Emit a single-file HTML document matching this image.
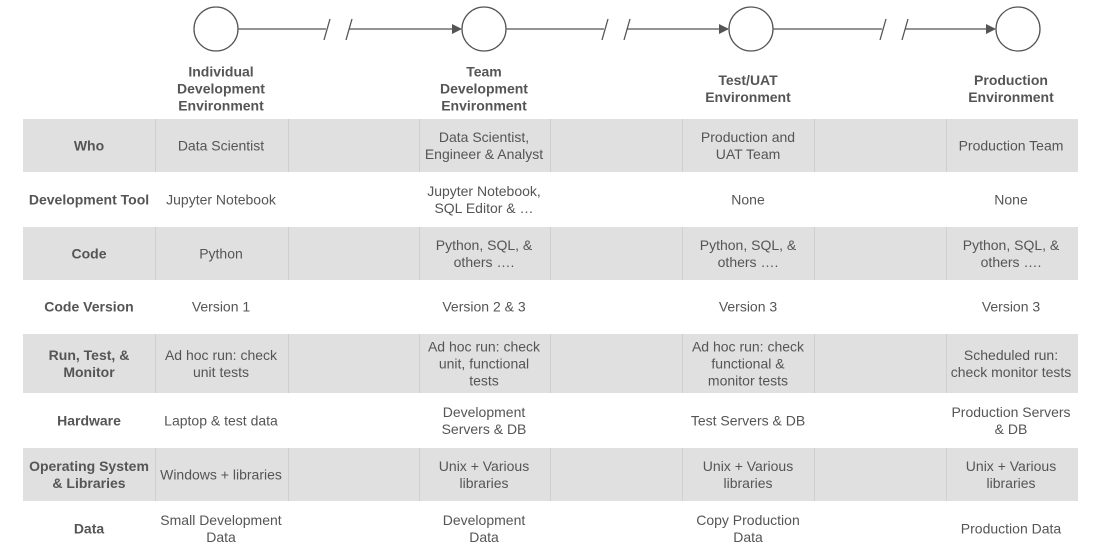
<!DOCTYPE html>
<html><head><style>
body{margin:0;width:1100px;height:550px;background:#fff;position:relative;overflow:hidden;font-family:"Liberation Sans",Arial,sans-serif;color:#555;font-size:14px}
.g{position:absolute;left:23px;width:1055px;background:#e0e0e0}
.v{position:absolute;width:1px;background:#cfcfcf}
.t{position:absolute;width:132px;text-align:center;line-height:17px;transform:translateY(-50%)}
.b{font-weight:bold}
.h{position:absolute;width:160px;text-align:center;line-height:17px;font-weight:bold;transform:translateY(-50%)}
</style></head><body>
<svg width="1100" height="60" style="position:absolute;left:0;top:0">
<defs><marker id="a" markerWidth="10" markerHeight="10" refX="9" refY="5" orient="auto" markerUnits="userSpaceOnUse"><path d="M0,0 L10,5 L0,10z" fill="#555"/></marker></defs>
<g stroke="#555" stroke-width="1.3" fill="none">
<circle cx="216" cy="29" r="22"/><circle cx="484" cy="29" r="22"/><circle cx="751" cy="29" r="22"/><circle cx="1018" cy="29" r="22"/>
<line x1="238" y1="29" x2="326" y2="29"/><line x1="330" y1="19" x2="324" y2="40"/><line x1="352" y1="19" x2="346" y2="40"/><line x1="349" y1="29" x2="461" y2="29" marker-end="url(#a)"/>
<line x1="506" y1="29" x2="604" y2="29"/><line x1="608" y1="19" x2="602" y2="40"/><line x1="630" y1="19" x2="624" y2="40"/><line x1="627" y1="29" x2="728" y2="29" marker-end="url(#a)"/>
<line x1="773" y1="29" x2="882" y2="29"/><line x1="886" y1="19" x2="880" y2="40"/><line x1="908" y1="19" x2="902" y2="40"/><line x1="905" y1="29" x2="995" y2="29" marker-end="url(#a)"/>
</g></svg>
<div class="h" style="left:141px;top:89px">Individual<br>Development<br>Environment</div>
<div class="h" style="left:404px;top:89px">Team<br>Development<br>Environment</div>
<div class="h" style="left:668px;top:89px">Test/UAT<br>Environment</div>
<div class="h" style="left:931px;top:89px">Production<br>Environment</div>

<div class="g" style="top:119px;height:53px"></div>
<div class="g" style="top:227px;height:53px"></div>
<div class="g" style="top:334px;height:59px"></div>
<div class="g" style="top:448px;height:53px"></div>
<div id="vs"></div>
<script>
var xs=[155,288,419,550,682,814,946],rs=[[119,53],[227,53],[334,59],[448,53]],h='';
rs.forEach(function(r){xs.forEach(function(x){h+='<div class="v" style="left:'+x+'px;top:'+r[0]+'px;height:'+r[1]+'px"></div>'})});
document.getElementById('vs').innerHTML=h;
</script>

<div class="t b" style="left:23px;top:146px">Who</div>
<div class="t" style="left:155px;top:146px">Data Scientist</div>
<div class="t" style="left:418px;top:146px">Data Scientist,<br>Engineer &amp; Analyst</div>
<div class="t" style="left:682px;top:146px">Production and<br>UAT Team</div>
<div class="t" style="left:945px;top:146px">Production Team</div>

<div class="t b" style="left:13px;width:152px;top:200px">Development Tool</div>
<div class="t" style="left:155px;top:200px">Jupyter Notebook</div>
<div class="t" style="left:418px;top:200px">Jupyter Notebook,<br>SQL Editor &amp; …</div>
<div class="t" style="left:682px;top:200px">None</div>
<div class="t" style="left:945px;top:200px">None</div>

<div class="t b" style="left:23px;top:254px">Code</div>
<div class="t" style="left:155px;top:254px">Python</div>
<div class="t" style="left:418px;top:254px">Python, SQL, &amp;<br>others ….</div>
<div class="t" style="left:682px;top:254px">Python, SQL, &amp;<br>others ….</div>
<div class="t" style="left:945px;top:254px">Python, SQL, &amp;<br>others ….</div>

<div class="t b" style="left:23px;top:307px">Code Version</div>
<div class="t" style="left:155px;top:307px">Version 1</div>
<div class="t" style="left:418px;top:307px">Version 2 &amp; 3</div>
<div class="t" style="left:682px;top:307px">Version 3</div>
<div class="t" style="left:945px;top:307px">Version 3</div>

<div class="t b" style="left:23px;top:364px">Run, Test, &amp;<br>Monitor</div>
<div class="t" style="left:155px;top:364px">Ad hoc run: check<br>unit tests</div>
<div class="t" style="left:418px;top:364px">Ad hoc run: check<br>unit, functional<br>tests</div>
<div class="t" style="left:682px;top:364px">Ad hoc run: check<br>functional &amp;<br>monitor tests</div>
<div class="t" style="left:940px;width:142px;top:364px">Scheduled run:<br>check monitor tests</div>

<div class="t b" style="left:23px;top:421px">Hardware</div>
<div class="t" style="left:155px;top:421px">Laptop &amp; test data</div>
<div class="t" style="left:418px;top:421px">Development<br>Servers &amp; DB</div>
<div class="t" style="left:682px;top:421px">Test Servers &amp; DB</div>
<div class="t" style="left:940px;width:142px;top:421px">Production Servers<br>&amp; DB</div>

<div class="t b" style="left:18px;width:142px;top:475px">Operating System<br>&amp; Libraries</div>
<div class="t" style="left:150px;width:142px;top:475px">Windows + libraries</div>
<div class="t" style="left:418px;top:475px">Unix + Various<br>libraries</div>
<div class="t" style="left:682px;top:475px">Unix + Various<br>libraries</div>
<div class="t" style="left:945px;top:475px">Unix + Various<br>libraries</div>

<div class="t b" style="left:23px;top:529px">Data</div>
<div class="t" style="left:150px;width:142px;top:529px">Small Development<br>Data</div>
<div class="t" style="left:418px;top:529px">Development<br>Data</div>
<div class="t" style="left:682px;top:529px">Copy Production<br>Data</div>
<div class="t" style="left:945px;top:529px">Production Data</div>
</body></html>
